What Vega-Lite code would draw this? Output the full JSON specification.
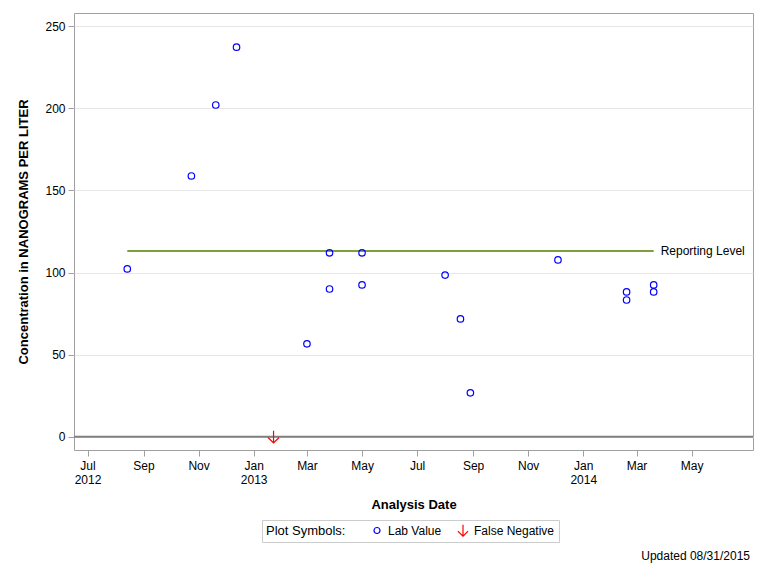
{
  "$schema": "https://vega.github.io/schema/vega-lite/v6.json",
  "autosize": "none",
  "width": 679,
  "height": 437,
  "padding": {"left": 74, "top": 13, "right": 15, "bottom": 126},
  "background": "white",
  "config": {
    "font": "Liberation Sans",
    "view": {"stroke": "#a0a0a0", "strokeWidth": 1},
    "axis": {"labelFont": "Liberation Sans", "titleFont": "Liberation Sans", "labelFontSize": 12, "titleFontSize": 13, "titleFontWeight": "bold", "labelColor": "#000", "titleColor": "#000", "domain": false, "tickColor": "#a0a0a0", "tickSize": 6, "gridColor": "#e6e6e6"}
  },
  "title": {"text": "Updated 08/31/2015", "orient": "bottom", "anchor": "end", "fontSize": 12, "fontWeight": "normal", "font": "Liberation Sans", "offset": 8, "dx": -4},
  "datasets": {
    "obs": [
      {"date": "2012-08-14", "value": 102.2, "type": "Lab Value"},
      {"date": "2012-10-24", "value": 158.8, "type": "Lab Value"},
      {"date": "2012-11-20", "value": 202, "type": "Lab Value"},
      {"date": "2012-12-13", "value": 237.2, "type": "Lab Value"},
      {"date": "2013-01-23", "value": 0, "type": "False Negative"},
      {"date": "2013-03-01", "value": 56.6, "type": "Lab Value"},
      {"date": "2013-03-26", "value": 112, "type": "Lab Value"},
      {"date": "2013-03-26", "value": 90, "type": "Lab Value"},
      {"date": "2013-05-01", "value": 112, "type": "Lab Value"},
      {"date": "2013-05-01", "value": 92.5, "type": "Lab Value"},
      {"date": "2013-08-01", "value": 98.5, "type": "Lab Value"},
      {"date": "2013-08-18", "value": 71.8, "type": "Lab Value"},
      {"date": "2013-08-29", "value": 26.8, "type": "Lab Value"},
      {"date": "2013-12-04", "value": 107.7, "type": "Lab Value"},
      {"date": "2014-02-18", "value": 88.2, "type": "Lab Value"},
      {"date": "2014-02-18", "value": 83.3, "type": "Lab Value"},
      {"date": "2014-03-20", "value": 92.5, "type": "Lab Value"},
      {"date": "2014-03-20", "value": 88.2, "type": "Lab Value"}
    ],
    "ref": [
      {"start": "2012-08-14", "end": "2014-03-20", "value": 113.1, "label": "Reporting Level"}
    ],
    "zero": [
      {"value": 0}
    ]
  },
  "layer": [
    {
      "data": {"name": "zero"},
      "mark": {"type": "rule", "color": "#808080", "strokeWidth": 2},
      "encoding": {
        "y": {"field": "value", "type": "quantitative"}
      }
    },
    {
      "data": {"name": "ref"},
      "mark": {"type": "rule", "color": "#7f9f3f", "strokeWidth": 2},
      "encoding": {
        "x": {"field": "start", "type": "temporal"},
        "x2": {"field": "end"},
        "y": {"field": "value", "type": "quantitative"}
      }
    },
    {
      "data": {"name": "ref"},
      "mark": {"type": "text", "align": "left", "baseline": "middle", "dx": 7, "fontSize": 12, "font": "Liberation Sans", "color": "#000"},
      "encoding": {
        "x": {"field": "end", "type": "temporal"},
        "y": {"field": "value", "type": "quantitative"},
        "text": {"field": "label"}
      }
    },
    {
      "data": {"name": "obs"},
      "mark": {"type": "point", "filled": false, "size": 42, "strokeWidth": 1.2, "opacity": 1},
      "encoding": {
        "x": {
          "field": "date", "type": "temporal",
          "scale": {"type": "utc", "domain": [{"year": 2012, "month": 6, "date": 16, "utc": true}, {"year": 2014, "month": 7, "date": 8, "utc": true}]},
          "axis": {
            "title": "Analysis Date",
            "grid": false,
            "titlePadding": 13,
            "values": [
              {"year": 2012, "month": 7, "date": 1, "utc": true},
              {"year": 2012, "month": 9, "date": 1, "utc": true},
              {"year": 2012, "month": 11, "date": 1, "utc": true},
              {"year": 2013, "month": 1, "date": 1, "utc": true},
              {"year": 2013, "month": 3, "date": 1, "utc": true},
              {"year": 2013, "month": 5, "date": 1, "utc": true},
              {"year": 2013, "month": 7, "date": 1, "utc": true},
              {"year": 2013, "month": 9, "date": 1, "utc": true},
              {"year": 2013, "month": 11, "date": 1, "utc": true},
              {"year": 2014, "month": 1, "date": 1, "utc": true},
              {"year": 2014, "month": 3, "date": 1, "utc": true},
              {"year": 2014, "month": 5, "date": 1, "utc": true}
            ],
            "labelExpr": "(utcmonth(datum.value) == 0 || (utcmonth(datum.value) == 6 && utcyear(datum.value) == 2012)) ? [utcFormat(datum.value, '%b'), utcFormat(datum.value, '%Y')] : utcFormat(datum.value, '%b')",
            "labelPadding": 4
          }
        },
        "y": {
          "field": "value", "type": "quantitative",
          "scale": {"domain": [-8, 258], "nice": false, "zero": false},
          "axis": {"title": "Concentration in NANOGRAMS PER LITER", "values": [0, 50, 100, 150, 200, 250], "titlePadding": 14, "labelPadding": 3}
        },
        "shape": {
          "field": "type", "type": "nominal",
          "scale": {"domain": ["Lab Value", "False Negative"], "range": ["circle", "M0,-1.9L0,1.9M-1.7,0.2L0,1.9L1.7,0.2"]},
          "legend": {"title": "Plot Symbols:", "orient": "none", "legendX": 188, "legendY": 507, "direction": "horizontal", "titleOrient": "left", "titleFontWeight": "normal", "titleFontSize": 13, "titleFont": "Liberation Sans", "labelFont": "Liberation Sans", "labelFontSize": 12, "strokeColor": "#cccccc", "padding": 4, "clipHeight": 13, "symbolSize": 36, "symbolStrokeWidth": 1.2, "columnPadding": 15, "titlePadding": 25, "labelOffset": 5, "labelColor": "#000", "titleColor": "#000"}
        },
        "color": {
          "field": "type", "type": "nominal",
          "scale": {"domain": ["Lab Value", "False Negative"], "range": ["#0000ff", "#ff0000"]},
          "legend": {"title": "Plot Symbols:", "orient": "none", "legendX": 188, "legendY": 507, "direction": "horizontal", "titleOrient": "left", "titleFontWeight": "normal", "titleFontSize": 13, "titleFont": "Liberation Sans", "labelFont": "Liberation Sans", "labelFontSize": 12, "strokeColor": "#cccccc", "padding": 4, "clipHeight": 13, "symbolSize": 36, "symbolStrokeWidth": 1.2, "columnPadding": 15, "titlePadding": 25, "labelOffset": 5, "labelColor": "#000", "titleColor": "#000"}
        }
      }
    }
  ]
}
